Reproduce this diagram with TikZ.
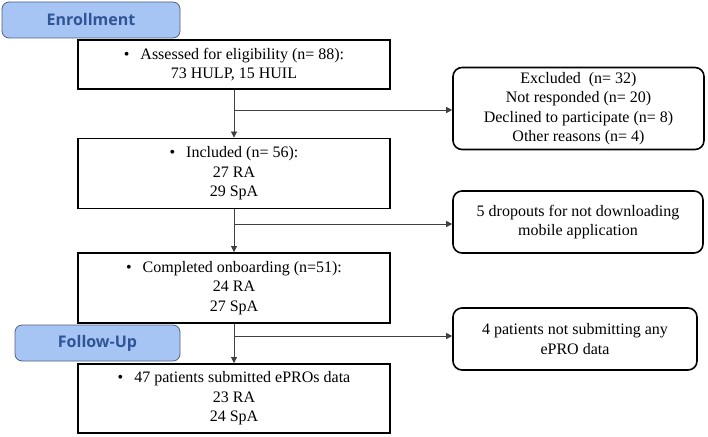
\documentclass[tikz,border=0pt]{standalone}
\usepackage{fontspec}
\setmainfont{Liberation Serif}
\newfontfamily\tabfont{Open Sans}
\usetikzlibrary{arrows.meta, positioning}

\definecolor{tabfill}{RGB}{166,196,244}
\definecolor{tabline}{RGB}{84,98,122}
\definecolor{tabtext}{RGB}{47,85,151}

\begin{document}
\begin{tikzpicture}[
        x=1pt, y=-1pt,
        box/.style={
            draw,
            rectangle,
            line width=1.8pt,
            minimum width=312pt,
            align=center,
            font=\fontsize{16}{19.5}\selectfont
        },
        sidebox/.style={
            draw,
            rectangle,
            rounded corners=9pt,
            line width=1.6pt,
            align=center,
            font=\fontsize{16}{19.5}\selectfont
        },
        tab/.style={
            draw=tabline,
            fill=tabfill,
            rounded corners=7pt,
            line width=0.8pt,
            minimum height=36pt,
            text=tabtext,
            font=\tabfont\bfseries\fontsize{16}{18}\selectfont
        },
        arrow/.style={-{Triangle[length=6pt, width=6pt]}, line width=0.7pt, draw=black!75}
    ]

    \useasboundingbox (0,0) rectangle (708,436);

    % Stage tabs
    \node[tab, minimum width=178pt] (enroll) at (91,20) {Enrollment};
    \node[tab, minimum width=165pt] (follow) at (97.5,343) {Follow-Up};

    % Main column
    \node[box, minimum height=49pt] (assessed) at (234,64.5)
        {\textbullet\hspace{11pt}Assessed for eligibility (n= 88):\\73 HULP, 15 HUIL};
    \node[box, minimum height=70pt] (included) at (234,173.5)
        {\textbullet\hspace{11pt}Included (n= 56):\\27 RA\\29 SpA};
    \node[box, minimum height=70pt] (onboard) at (234,288)
        {\textbullet\hspace{11pt}Completed onboarding (n=51):\\24 RA\\27 SpA};
    \node[box, minimum height=69pt] (submitted) at (234,398.5)
        {\textbullet\hspace{11pt}47 patients submitted ePROs data\\23 RA\\24 SpA};

    % Side boxes (losses)
    \node[sidebox, minimum width=251pt, minimum height=82pt] (excluded) at (578.5,108.5)
        {Excluded~ (n= 32)\\Not responded (n= 20)\\Declined to participate (n= 8)\\Other reasons (n= 4)};
    \node[sidebox, minimum width=250pt, minimum height=62pt] (dropouts) at (578,222)
        {5 dropouts for not downloading\\mobile application};
    \node[sidebox, minimum width=244pt, minimum height=62pt] (nodata) at (575,339)
        {4 patients not submitting any\\ePRO data};

    % Split points on the main line
    \coordinate (split1) at (234,110);
    \coordinate (split2) at (234,224);
    \coordinate (split3) at (234,336);

    % Arrows down the main column
    \draw[arrow] (assessed) -- (included);
    \draw[arrow] (included) -- (onboard);
    \draw[arrow] (onboard) -- (submitted);

    % Arrows to the side boxes
    \draw[arrow] (split1) -- (split1 -| excluded.west);
    \draw[arrow] (split2) -- (split2 -| dropouts.west);
    \draw[arrow] (split3) -- (split3 -| nodata.west);

\end{tikzpicture}
\end{document}
